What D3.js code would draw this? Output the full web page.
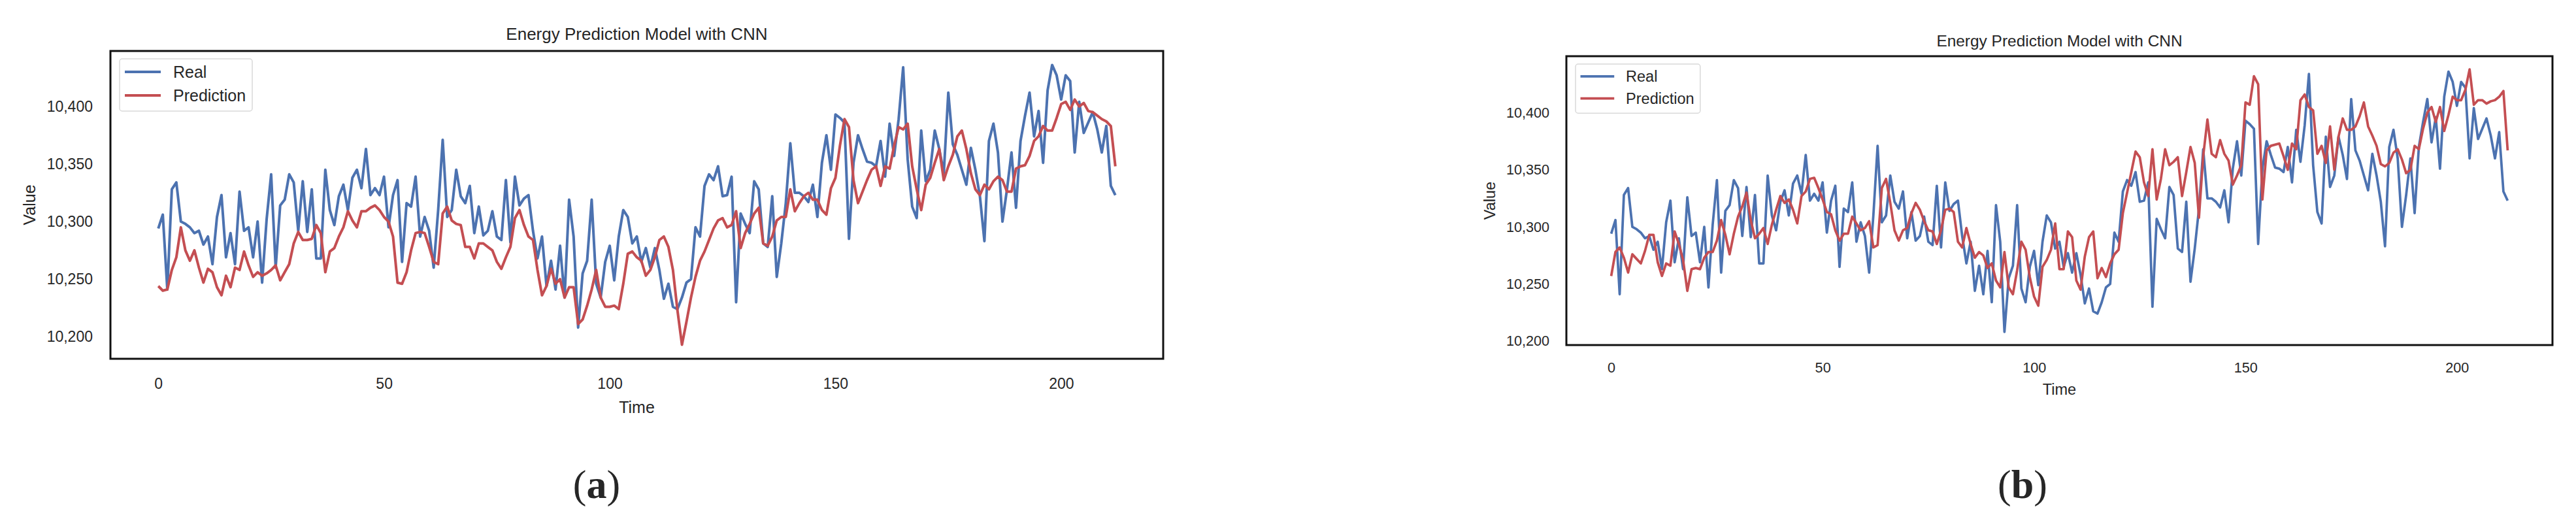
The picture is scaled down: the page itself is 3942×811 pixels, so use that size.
<!DOCTYPE html>
<html>
<head>
<meta charset="utf-8">
<script src="https://cdn.jsdelivr.net/npm/d3@7"></script>
<style>
  body { margin: 0; background: #fff; }
  text { font-family: "Liberation Sans", Arial, sans-serif; fill: #262626; }
</style>
</head>
<body>
<div id="chart"></div>
<script>
// real energy values (same in both panels)
var realValues = [
  10294, 10306, 10241, 10328, 10334, 10300, 10298, 10295, 10290, 10292,
  10280, 10287, 10263, 10304, 10323, 10269, 10290, 10263, 10326, 10292,
  10295, 10269, 10300, 10247, 10302, 10341, 10260, 10314, 10319, 10341,
  10334, 10292, 10335, 10291, 10328, 10268, 10268, 10345, 10310, 10297,
  10322, 10332, 10310, 10338, 10345, 10329, 10363, 10323, 10329, 10323,
  10339, 10295, 10323, 10336, 10265, 10316, 10313, 10339, 10287, 10304,
  10292, 10260, 10310, 10371, 10304, 10310, 10345, 10322, 10316, 10331,
  10290, 10313, 10288, 10292, 10309, 10287, 10284, 10336, 10282, 10339,
  10314, 10320, 10323, 10292, 10268, 10287, 10244, 10266, 10241, 10279,
  10234, 10319, 10287, 10208, 10255, 10266, 10319, 10246, 10234, 10265,
  10279, 10249, 10287, 10310, 10304, 10281, 10287, 10265, 10277, 10260,
  10277, 10258, 10233, 10246, 10226, 10224, 10234, 10247, 10250, 10295,
  10287, 10331, 10341, 10336, 10348, 10322, 10323, 10339, 10230, 10307,
  10298, 10290, 10335, 10328, 10281, 10278, 10322, 10252, 10281, 10316,
  10368, 10325, 10325, 10322, 10317, 10332, 10304, 10351, 10375, 10345,
  10393, 10390, 10386, 10285, 10351, 10375, 10363, 10352, 10351, 10348,
  10370, 10339, 10385, 10357, 10389, 10434, 10354, 10313, 10303, 10379,
  10335, 10345, 10379, 10363, 10342, 10412, 10367, 10358, 10345, 10332,
  10364, 10345, 10322, 10283, 10370, 10385, 10360, 10300, 10328, 10360,
  10312, 10370, 10392, 10412, 10374, 10396, 10351, 10414, 10436, 10427,
  10406, 10427, 10422, 10360, 10404, 10377, 10386, 10395, 10380, 10360,
  10383, 10331, 10323
];

// CNN prediction, panel (a)
var predValuesA = [
  10244, 10240, 10241, 10258, 10269, 10295, 10275, 10266, 10275, 10260,
  10247, 10259, 10256, 10243, 10236, 10253, 10243, 10260, 10258, 10274,
  10262, 10252, 10256, 10253, 10255, 10258, 10262, 10249, 10256, 10263,
  10281, 10291, 10284, 10284, 10285, 10297, 10290, 10256, 10274, 10277,
  10287, 10295, 10309, 10301, 10295, 10309, 10309, 10312, 10314, 10310,
  10304, 10300, 10287, 10247, 10246, 10256, 10275, 10290, 10291, 10290,
  10278, 10265, 10263, 10307, 10313, 10301, 10298, 10297, 10278, 10278,
  10268, 10281, 10281, 10278, 10275, 10265, 10259, 10269, 10278, 10303,
  10310, 10297, 10287, 10284, 10258, 10236, 10244, 10259, 10246, 10250,
  10234, 10243, 10243, 10211, 10215, 10227, 10241, 10258, 10234, 10226,
  10226, 10227, 10224, 10246, 10272, 10274, 10269, 10266, 10253, 10258,
  10269, 10284, 10287, 10278, 10258, 10223, 10193, 10213, 10234, 10252,
  10266, 10274, 10284, 10294, 10301, 10303, 10295, 10297, 10309, 10277,
  10290, 10298, 10307, 10312, 10281, 10279, 10287, 10301, 10304, 10304,
  10328, 10309, 10316, 10322, 10325, 10319, 10319, 10310, 10306, 10329,
  10338, 10366, 10389, 10382, 10336, 10316, 10326, 10336, 10345, 10348,
  10331, 10348, 10346, 10366, 10382, 10380, 10385, 10348, 10328, 10310,
  10332, 10338, 10351, 10363, 10336, 10348, 10358, 10374, 10379, 10363,
  10342, 10328, 10323, 10332, 10328, 10335, 10339, 10336, 10326, 10326,
  10346, 10348, 10349, 10357, 10370, 10374, 10383, 10379, 10379, 10390,
  10402, 10404, 10397, 10406, 10400, 10403, 10396, 10395, 10392, 10389,
  10387, 10383, 10348
];

// CNN prediction, panel (b)
var predValuesB = [
  10257, 10278, 10282, 10273, 10260, 10276, 10272, 10268, 10279, 10293,
  10293, 10269, 10257, 10268, 10266, 10296, 10285, 10271, 10244, 10263,
  10264, 10263, 10273, 10278, 10278, 10288, 10306, 10293, 10276, 10294,
  10309, 10318, 10330, 10306, 10290, 10294, 10299, 10285, 10302, 10315,
  10327, 10321, 10324, 10315, 10303, 10327, 10331, 10342, 10343, 10334,
  10324, 10313, 10311, 10297, 10288, 10294, 10294, 10309, 10303, 10297,
  10299, 10305, 10282, 10284, 10334, 10342, 10321, 10297, 10288, 10297,
  10299, 10312, 10321, 10315, 10305, 10297, 10296, 10285, 10297, 10315,
  10316, 10313, 10287, 10282, 10299, 10285, 10273, 10278, 10275, 10264,
  10268, 10253, 10247, 10278, 10247, 10241, 10262, 10287, 10280, 10256,
  10239, 10231, 10265, 10271, 10280, 10303, 10263, 10263, 10296, 10291,
  10253, 10245, 10274, 10291, 10296, 10255, 10264, 10256, 10268, 10276,
  10280, 10312, 10330, 10348, 10366, 10361, 10339, 10327, 10368, 10324,
  10342, 10368, 10354, 10357, 10361, 10327, 10348, 10370, 10356, 10308,
  10362, 10394, 10364, 10361, 10376, 10364, 10358, 10337, 10345, 10354,
  10409, 10407, 10432, 10425, 10324, 10367, 10371, 10372, 10373, 10362,
  10350, 10373, 10368, 10411, 10416, 10405, 10402, 10364, 10371, 10356,
  10388, 10350, 10379, 10395, 10385, 10385, 10388, 10397, 10409, 10388,
  10380, 10371, 10355, 10353, 10356, 10365, 10368, 10359, 10347, 10350,
  10371, 10368, 10386, 10400, 10405, 10392, 10405, 10384, 10398, 10414,
  10411, 10411, 10420, 10438, 10407, 10411, 10411, 10408, 10410, 10411,
  10414, 10419, 10367
];

var xTicks = [0, 50, 100, 150, 200];
var yTicks = [10200, 10250, 10300, 10350, 10400];
var seriesNames = ["Real", "Prediction"];
var seriesColors = ["#4c72b0", "#c44e52"];
var titleText = "Energy Prediction Model with CNN";

var panels = [
  { pred: predValuesA, tag: "a", left: 169, right: 1780, top: 78, bottom: 549, k: 1.0,
    tickDx: 27, xTickDy: 38, timeDy: 74, titleDy: 26, valueDx: 124, tagX: 913 },
  { pred: predValuesB, tag: "b", left: 2397, right: 3906, top: 86, bottom: 528, k: 0.94,
    tickDx: 26, xTickDy: 34, timeDy: 68, titleDy: 24, valueDx: 117, tagX: 3095 }
];

var svg = d3.select("#chart").append("svg")
  .attr("width", 3942).attr("height", 811);

panels.forEach(function (p) {
  var g = svg.append("g");
  var n = realValues.length;
  var pad = (n - 1) * 0.05;
  var x = d3.scaleLinear().domain([-pad, n - 1 + pad]).range([p.left, p.right]);
  var all = realValues.concat(p.pred);
  var lo = d3.min(all), hi = d3.max(all), m = (hi - lo) * 0.05;
  var y = d3.scaleLinear().domain([lo - m, hi + m]).range([p.bottom, p.top]);

  // axes without tick marks (seaborn white style)
  var xa = g.append("g").attr("transform", "translate(0," + (p.bottom + p.xTickDy) + ")")
    .call(d3.axisBottom(x).tickValues(xTicks).tickSize(0).tickPadding(0));
  xa.select(".domain").remove();
  xa.selectAll("text").attr("dy", "0.35em").style("font-size", (23 * p.k) + "px")
    .style("font-family", "Liberation Sans, Arial, sans-serif").attr("fill", "#262626");

  var ya = g.append("g").attr("transform", "translate(" + (p.left - p.tickDx) + ",0)")
    .call(d3.axisLeft(y).tickValues(yTicks).tickSize(0).tickPadding(0).tickFormat(d3.format(",")));
  ya.select(".domain").remove();
  ya.selectAll("text").style("font-size", (23 * p.k) + "px")
    .style("font-family", "Liberation Sans, Arial, sans-serif").attr("fill", "#262626");

  var line = d3.line().x(function (d, i) { return x(i); }).y(function (d) { return y(d); });
  [realValues, p.pred].forEach(function (s, i) {
    g.append("path").datum(s).attr("d", line).attr("fill", "none")
      .attr("stroke", seriesColors[i]).attr("stroke-width", 4 * p.k)
      .attr("stroke-linejoin", "round");
  });

  g.append("rect").attr("x", p.left).attr("y", p.top)
    .attr("width", p.right - p.left).attr("height", p.bottom - p.top)
    .attr("fill", "none").attr("stroke", "#111").attr("stroke-width", 3);

  var cx = (p.left + p.right) / 2;
  g.append("text").attr("x", cx).attr("y", p.top - p.titleDy).attr("dy", "0.35em")
    .attr("text-anchor", "middle").style("font-size", (26 * p.k) + "px").text(titleText);
  g.append("text").attr("x", cx).attr("y", p.bottom + p.timeDy).attr("dy", "0.35em")
    .attr("text-anchor", "middle").style("font-size", (25 * p.k) + "px").text("Time");
  g.append("text").attr("transform", "translate(" + (p.left - p.valueDx) + "," + ((p.top + p.bottom) / 2) + ") rotate(-90)")
    .attr("dy", "0.35em").attr("text-anchor", "middle").style("font-size", (25 * p.k) + "px").text("Value");

  // legend
  var lx = p.left + 14, ly = p.top + 12;
  var lg = g.append("g");
  lg.append("rect").attr("x", lx).attr("y", ly).attr("width", 203 * p.k).attr("height", 80 * p.k)
    .attr("rx", 4).attr("fill", "#fff").attr("stroke", "#d9d9d9").attr("stroke-width", 1.5);
  seriesNames.forEach(function (name, i) {
    var yy = ly + (20 + 36 * i) * p.k;
    lg.append("line").attr("x1", lx + 8 * p.k).attr("x2", lx + 63 * p.k)
      .attr("y1", yy).attr("y2", yy).attr("stroke", seriesColors[i]).attr("stroke-width", 4 * p.k);
    lg.append("text").attr("x", lx + 82 * p.k).attr("y", yy).attr("dy", "0.35em")
      .style("font-size", (25 * p.k) + "px").text(name);
  });

  var tag = g.append("text").attr("x", p.tagX).attr("y", 740).attr("dy", "0.35em")
    .attr("text-anchor", "middle").style("font-family", "Liberation Serif, Times New Roman, serif")
    .style("font-size", "62px").attr("fill", "#000");
  tag.append("tspan").text("(");
  tag.append("tspan").style("font-weight", "bold").text(p.tag);
  tag.append("tspan").text(")");
});
</script>
</body>
</html>
